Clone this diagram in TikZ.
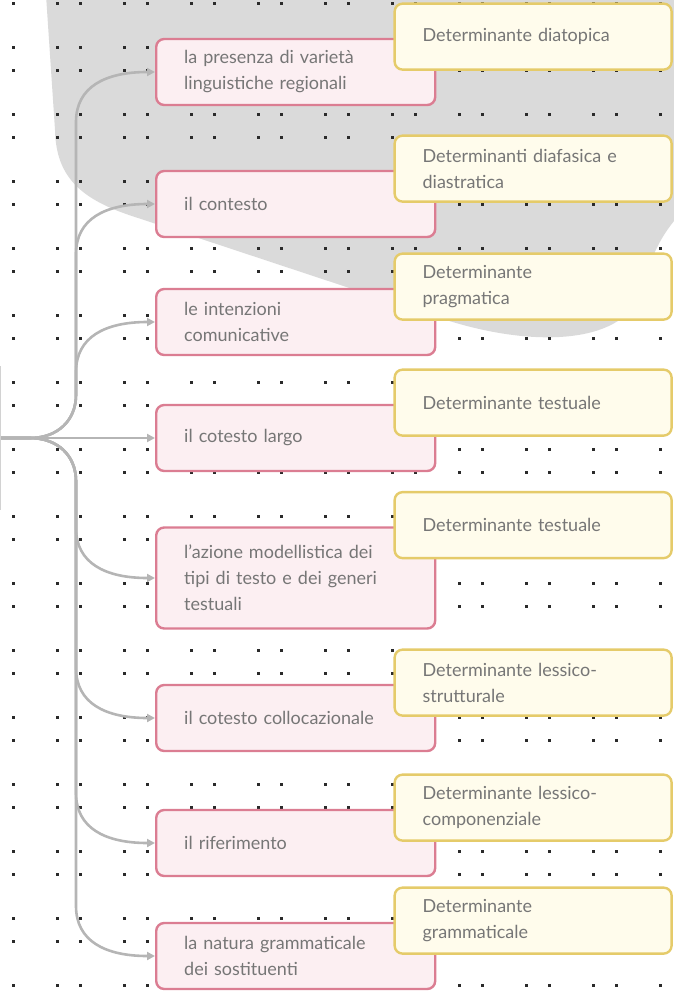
\documentclass[tikz,border=0pt]{standalone}
\usepackage{fontspec}
\setmainfont{Lato}
\usepackage{xcolor}
\usepackage{tikz}
\usetikzlibrary{positioning}
\usetikzlibrary{arrows.meta}

\definecolor{mapgray}{HTML}{DADADA}
\definecolor{dotgray}{HTML}{2A2A2A}
\definecolor{pinkline}{HTML}{DB7D92}
\definecolor{pinkfill}{HTML}{FCEFF2}
\definecolor{goldline}{HTML}{E5CB6A}
\definecolor{goldfill}{HTML}{FFFCEC}
\definecolor{linkgray}{HTML}{B5B5B5}
\definecolor{labelgray}{HTML}{767676}

\begin{document}
\begin{tikzpicture}[x=1pt, y=-1pt,
    factor/.style={draw=pinkline, fill=pinkfill, line width=2.4pt, rounded corners=8pt,
      text width=223pt, minimum height=66pt, inner xsep=28pt, align=left,
      text=labelgray, font=\fontsize{18}{26}\selectfont},
    determ/.style={factor, text width=221pt, draw=goldline, fill=goldfill, above right=-33pt and -43pt of #1},
    link/.style={draw=linkgray, line width=2.6pt, -{Triangle[length=8pt,width=8pt]}}]
  \useasboundingbox (0,0) rectangle (674,994);
  \clip (0,0) rectangle (674,994);

  % Background
  \fill[mapgray] (46,-5) -- (55,130) .. controls (56,178) and (82,200) .. (135,217)
    -- (440,318) .. controls (530,348) and (620,345) .. (640,295)
    .. controls (648,272) and (652,245) .. (680,214) -- (680,-5) -- cycle;
  \foreach \i in {0,...,9}
    \foreach \j in {0,...,14}
      \foreach \dx/\dy in {13/3, 57/3, 13/47, 57/47}
        \fill[dotgray] (\dx+67*\i-1.5, \dy+67*\j-1.5) rectangle +(3,3);

  % Nodes
  \node[draw=gray!35, line width=1pt, fill=white, minimum width=100pt, minimum height=143pt, anchor=east] (root) at (1,438) {};
  \coordinate (hub) at (30,438);

  \node[factor, anchor=west] (p1) at (155,72) {la presenza di varietà\\linguistiche regionali};
  \node[factor, anchor=west] (p2) at (155,204) {il contesto};
  \node[factor, anchor=west] (p3) at (155,322) {le intenzioni\\comunicative};
  \node[factor, anchor=west] (p4) at (155,438) {il cotesto largo};
  \node[factor, anchor=west, minimum height=101pt] (p5) at (155,578) {l'azione modellistica dei\\tipi di testo e dei generi\\testuali};
  \node[factor, anchor=west] (p6) at (155,718) {il cotesto collocazionale};
  \node[factor, anchor=west] (p7) at (155,843) {il riferimento};
  \node[factor, anchor=west] (p8) at (155,956) {la natura grammaticale\\dei sostituenti};

  \node[determ=p1] (d1) {Determinante diatopica};
  \node[determ=p2] (d2) {Determinanti diafasica e\\diastratica};
  \node[determ=p3] (d3) {Determinante\\pragmatica};
  \node[determ=p4] (d4) {Determinante testuale};
  \node[determ=p5] (d5) {Determinante testuale};
  \node[determ=p6] (d6) {Determinante lessico-\\strutturale};
  \node[determ=p7] (d7) {Determinante lessico-\\componenziale};
  \node[determ=p8] (d8) {Determinante\\grammaticale};

  % Arrows
  \draw[link] (root.east) -- (hub) .. controls (58,438) and (76,420) .. (76,395) -- (76,122) .. controls (76,87) and (105,72) .. (p1.west);
  \draw[link] (root.east) -- (hub) .. controls (58,438) and (76,420) .. (76,395) -- (76,254) .. controls (76,219) and (105,204) .. (p2.west);
  \draw[link] (root.east) -- (hub) .. controls (58,438) and (76,420) .. (76,395) -- (76,372) .. controls (76,337) and (105,322) .. (p3.west);
  \draw[link] (root.east) -- (p4.west);
  \draw[link] (root.east) -- (hub) .. controls (58,438) and (76,456) .. (76,481) -- (76,528) .. controls (76,563) and (105,578) .. (p5.west);
  \draw[link] (root.east) -- (hub) .. controls (58,438) and (76,456) .. (76,481) -- (76,668) .. controls (76,703) and (105,718) .. (p6.west);
  \draw[link] (root.east) -- (hub) .. controls (58,438) and (76,456) .. (76,481) -- (76,793) .. controls (76,828) and (105,843) .. (p7.west);
  \draw[link] (root.east) -- (hub) .. controls (58,438) and (76,456) .. (76,481) -- (76,906) .. controls (76,941) and (105,956) .. (p8.west);
\end{tikzpicture}
\end{document}
